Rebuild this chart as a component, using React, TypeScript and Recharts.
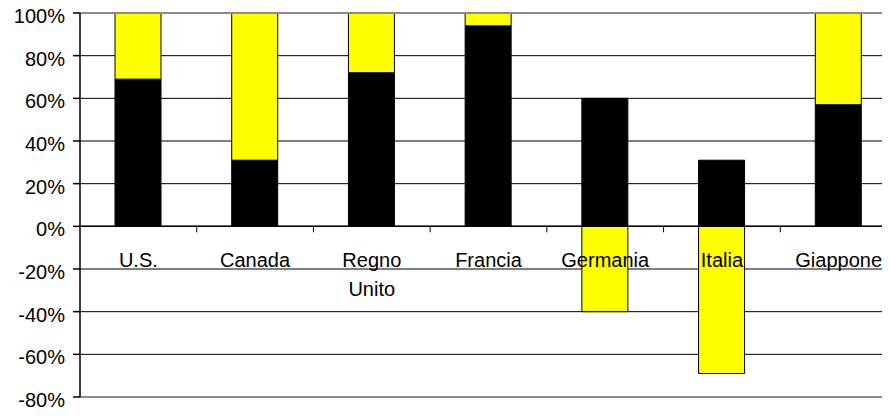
import React from 'react';
import { BarChart, Bar, XAxis, YAxis, CartesianGrid, ReferenceLine } from 'recharts';

const countries = ['U.S.', 'Canada', 'Regno\nUnito', 'Francia', 'Germania', 'Italia', 'Giappone'];
const blackValues = [69, 31, 72, 94, 60, 31, 57];
const yellowValues = [31, 69, 28, 6, -40, -69, 43];
const yTicks = [-80, -60, -40, -20, 0, 20, 40, 60, 80, 100];

const data = countries.map((name, i) => ({ name, black: blackValues[i], yellow: yellowValues[i] }));

const FONT = '"Liberation Sans", Arial, sans-serif';
const CHART_W = 898;
const CHART_H = 416;
const TOP = 13;
const BOTTOM = 18;
const X_AXIS_H = 1;
const LEFT = 80;
const PLOT_H = CHART_H - TOP - BOTTOM - X_AXIS_H;
const PLOT_W = CHART_W - LEFT - 1;
const Y_MIN = -80;
const Y_MAX = 100;
const ZERO_Y = TOP + (PLOT_H * Y_MAX) / (Y_MAX - Y_MIN);
const BAND = PLOT_W / countries.length;

const CountryTick = (props: any) => {
  const { x, payload } = props;
  const lines = String(payload.value).split('\n');
  return (
    <g>
      <line x1={x + BAND / 2} x2={x + BAND / 2} y1={ZERO_Y} y2={ZERO_Y + 6} stroke="#000" strokeWidth={1} />
      <text x={x} y={ZERO_Y} textAnchor="middle" fontSize={20} fontFamily={FONT} fill="#000">
        {lines.map((l, i) => (
          <tspan key={i} x={x} dy={i === 0 ? 41 : 29}>{l}</tspan>
        ))}
      </text>
    </g>
  );
};

const PercentTick = (props: any) => {
  const { x, y, payload } = props;
  return (
    <text x={x} y={y} dy={10} textAnchor="end" fontSize={20} fontFamily={FONT} fill="#000">
      {`${payload.value}%`}
    </text>
  );
};

export default function App() {
  return (
    <div style={{ margin: -8, width: 890, height: 416, overflow: 'hidden', background: '#fff' }}>
      <BarChart
        width={CHART_W}
        height={CHART_H}
        data={data}
        stackOffset="sign"
        barSize={46}
        margin={{ top: TOP, right: 1, bottom: BOTTOM, left: 0 }}
      >
        <CartesianGrid vertical={false} stroke="#000" strokeWidth={1} />
        <XAxis
          dataKey="name"
          height={X_AXIS_H}
          axisLine={false}
          tickLine={false}
          interval={0}
          tick={<CountryTick />}
        />
        <YAxis
          width={LEFT}
          domain={[Y_MIN, Y_MAX]}
          ticks={yTicks}
          interval={0}
          tickSize={7}
          tickMargin={8}
          axisLine={{ stroke: '#000', strokeWidth: 1.5 }}
          tickLine={{ stroke: '#000', strokeWidth: 1.5 }}
          tick={<PercentTick />}
        />
        <ReferenceLine y={100} stroke="#8c8c8c" strokeWidth={2} />
        <ReferenceLine y={-80} stroke="#8c8c8c" strokeWidth={2} />
        <Bar dataKey="black" stackId="a" fill="#000" stroke="#000" strokeWidth={1} isAnimationActive={false} />
        <Bar dataKey="yellow" stackId="a" fill="#ffff00" stroke="#000" strokeWidth={1} isAnimationActive={false} />
        <ReferenceLine y={0} stroke="#000" strokeWidth={1.5} />
      </BarChart>
    </div>
  );
}
